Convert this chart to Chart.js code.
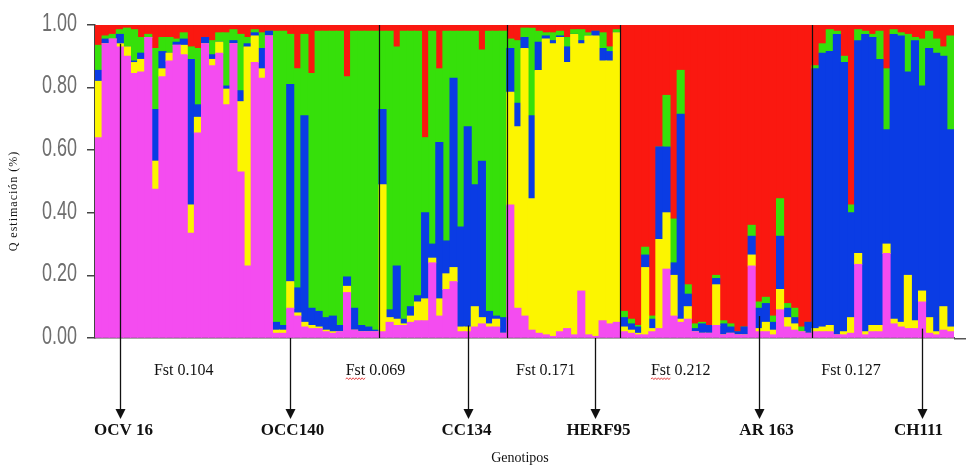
<!DOCTYPE html>
<html>
<head>
<meta charset="utf-8">
<script src="https://cdn.jsdelivr.net/npm/chart.js@4.4.1/dist/chart.umd.min.js"></script>
<style>
  html, body { margin: 0; padding: 0; background: #fff; }
  #wrap { width: 975px; height: 466px; }
</style>
</head>
<body>
<div id="wrap"><canvas id="structureChart" width="975" height="466"></canvas></div>
<script>
// populations (individuals per cluster, left to right)
const groupSizes = [25, 15, 18, 16, 27, 20];

// pairwise Fst between neighbouring reference genotypes
const fstValues = [0.104, 0.069, 0.171, 0.212, 0.127];

// reference genotypes marked with arrows (bar index)
const markerLabels = ['OCV 16', 'OCC140', 'CC134', 'HERF95', 'AR 163', 'CH111'];
const markerIndex = [3, 27, 52, 70, 93, 116];

const yTicks = [0, 0.2, 0.4, 0.6, 0.8, 1.0];

// Q membership per individual, stacked bottom -> top: pink, yellow, blue, green, red
const pink = [
  0.64, 0.94, 0.955, 0.93, 0.90, 0.845, 0.85, 0.96, 0.475, 0.835, 0.885, 0.935, 0.905, 0.335, 0.655, 0.94, 0.87, 0.91, 0.745, 0.94, 0.53, 0.23, 0.88, 0.83, 0.965,
  0.015, 0.015, 0.095, 0.07, 0.035, 0.03, 0.03, 0.02, 0.015, 0.02, 0.145, 0.025, 0.02, 0.02, 0.02,
  0.02, 0.05, 0.04, 0.04, 0.05, 0.055, 0.055, 0.24, 0.07, 0.155, 0.18, 0.02, 0.02, 0.035, 0.045, 0.035, 0.035, 0.015,
  0.425, 0.095, 0.07, 0.025, 0.015, 0.01, 0.005, 0.02, 0.03, 0.01, 0.15, 0.01, 0.005, 0.055, 0.045, 0.05,
  0.02, 0.015, 0.01, 0.01, 0.02, 0.03, 0.22, 0.07, 0.05, 0.06, 0.02, 0.015, 0.015, 0.04, 0.01, 0.015, 0.01, 0.01, 0.23, 0.02, 0.02, 0.01, 0.09, 0.035, 0.025, 0.02, 0.015,
  0.02, 0.02, 0.02, 0.01, 0.01, 0.015, 0.235, 0.01, 0.02, 0.02, 0.27, 0.045, 0.035, 0.03, 0.03, 0.115, 0.015, 0.01, 0.025, 0.02
];
const yellow = [
  0.18, 0, 0, 0.01, 0.03, 0.035, 0.04, 0, 0.09, 0.025, 0.025, 0, 0.03, 0.09, 0.05, 0, 0.02, 0.035, 0.05, 0, 0.225, 0.70, 0.085, 0.03, 0,
  0.01, 0.01, 0.085, 0.01, 0.015, 0.01, 0.005, 0.005, 0.005, 0, 0.02, 0, 0, 0, 0,
  0.47, 0.015, 0.02, 0.005, 0.02, 0.06, 0.07, 0.015, 0.055, 0.05, 0.045, 0.015, 0.015, 0.065, 0.02, 0.01, 0.025, 0,
  0.36, 0.58, 0.855, 0.42, 0.84, 0.945, 0.935, 0.94, 0.85, 0.96, 0.79, 0.955, 0.96, 0.83, 0.84, 0.925,
  0.015, 0.01, 0.005, 0.215, 0.01, 0.285, 0.18, 0.13, 0.01, 0.04, 0, 0, 0, 0.13, 0, 0, 0, 0, 0.035, 0.01, 0.03, 0.015, 0.065, 0.03, 0.02, 0, 0,
  0.01, 0.015, 0.02, 0, 0.01, 0.05, 0.035, 0.01, 0.02, 0.02, 0.03, 0.015, 0.015, 0.17, 0.025, 0.035, 0.05, 0.01, 0.075, 0.015
];
const blue = [
  0.035, 0.015, 0, 0.03, 0, 0.005, 0.02, 0, 0.165, 0.055, 0, 0.01, 0.02, 0.465, 0.04, 0.02, 0.015, 0, 0.01, 0.01, 0.035, 0.01, 0.01, 0.065, 0.015,
  0.025, 0.015, 0.63, 0.08, 0.66, 0.055, 0.05, 0.04, 0.05, 0.02, 0.03, 0.07, 0.02, 0.015, 0.005,
  0.24, 0.025, 0.17, 0.015, 0.03, 0.02, 0.275, 0.045, 0.50, 0.105, 0.605, 0.32, 0.64, 0.39, 0.50, 0.04, 0.01, 0.05,
  0.14, 0.075, 0.035, 0.265, 0.09, 0.01, 0.01, 0.005, 0.05, 0, 0.01, 0, 0.015, 0.04, 0.03, 0,
  0.03, 0.02, 0.02, 0.04, 0.03, 0.295, 0.21, 0.04, 0.655, 0.04, 0.01, 0.03, 0.025, 0.02, 0.035, 0.02, 0.01, 0.025, 0.06, 0.065, 0.06, 0.025, 0.17, 0.03, 0.02, 0, 0.035,
  0.83, 0.875, 0.875, 0.96, 0.86, 0.335, 0.68, 0.95, 0.92, 0.85, 0.365, 0.91, 0.915, 0.65, 0.895, 0.655, 0.86, 0.89, 0.80, 0.63
];
const green = [
  0.08, 0.01, 0.015, 0.015, 0.06, 0.10, 0.05, 0.01, 0.195, 0.045, 0.05, 0.01, 0.02, 0.04, 0.18, 0, 0.045, 0.03, 0.17, 0.035, 0.18, 0.02, 0.01, 0.05, 0,
  0.93, 0.94, 0.16, 0.70, 0.26, 0.75, 0.895, 0.915, 0.91, 0.94, 0.64, 0.885, 0.94, 0.945, 0.955,
  0.25, 0.89, 0.70, 0.92, 0.88, 0.845, 0.24, 0.68, 0.235, 0.67, 0.15, 0.625, 0.305, 0.49, 0.355, 0.895, 0.91, 0.915,
  0.03, 0.20, 0.03, 0.28, 0.035, 0.01, 0.025, 0.015, 0.03, 0.015, 0.035, 0.01, 0, 0.05, 0.015, 0.01,
  0.02, 0.015, 0.005, 0.025, 0.01, 0, 0.165, 0.14, 0.14, 0.03, 0.015, 0.005, 0, 0.01, 0.01, 0.01, 0, 0, 0.035, 0.02, 0.02, 0.02, 0.12, 0.015, 0.03, 0.015, 0,
  0.01, 0.03, 0.07, 0.01, 0.02, 0.025, 0.035, 0.01, 0.01, 0.09, 0.195, 0.015, 0.01, 0.12, 0.01, 0.15, 0.055, 0.045, 0.03, 0.30
];
const red = [
  0.065, 0.035, 0.03, 0.015, 0.01, 0.015, 0.04, 0.03, 0.075, 0.04, 0.04, 0.045, 0.025, 0.07, 0.075, 0.04, 0.05, 0.025, 0.025, 0.015, 0.03, 0.04, 0.015, 0.025, 0.02,
  0.02, 0.02, 0.03, 0.14, 0.03, 0.155, 0.02, 0.02, 0.02, 0.02, 0.165, 0.02, 0.02, 0.02, 0.02,
  0.02, 0.02, 0.07, 0.02, 0.02, 0.02, 0.36, 0.02, 0.14, 0.02, 0.02, 0.02, 0.02, 0.02, 0.08, 0.02, 0.02, 0.02,
  0.045, 0.05, 0.01, 0.01, 0.02, 0.025, 0.025, 0.02, 0.04, 0.015, 0.015, 0.025, 0.02, 0.025, 0.07, 0.015,
  0.915, 0.94, 0.96, 0.71, 0.93, 0.39, 0.225, 0.62, 0.145, 0.83, 0.955, 0.95, 0.96, 0.80, 0.945, 0.955, 0.98, 0.965, 0.64, 0.885, 0.87, 0.93, 0.555, 0.89, 0.905, 0.965, 0.95,
  0.13, 0.06, 0.015, 0.02, 0.10, 0.575, 0.015, 0.02, 0.03, 0.02, 0.14, 0.015, 0.025, 0.03, 0.04, 0.045, 0.02, 0.045, 0.07, 0.035
];

const individuals = pink.map((_, i) => 'Ind ' + (i + 1));

// extra drawing: group dividers, arrows, labels
const annotationPlugin = {
    id: 'annotations',
    afterDraw(chart, args, opts) {
        const ctx = chart.ctx;
        const xs = chart.scales.x;
        const ys = chart.scales.y;
        const area = chart.chartArea;
        ctx.save();

        // y tick labels, condensed like the original
        ctx.fillStyle = '#6e6e6e';
        ctx.font = '25px "Liberation Sans", Arial, sans-serif';
        ctx.textAlign = 'right';
        ctx.textBaseline = 'middle';
        ys.ticks.forEach(t => {
            const py = ys.getPixelForValue(t.value);
            ctx.save();
            ctx.translate(opts.tickRight, py - 1);
            ctx.scale(0.72, 1);
            ctx.fillText(Number(t.value).toFixed(2), 0, 0);
            ctx.restore();
        });

        // black divider lines between populations
        let cum = 0;
        ctx.strokeStyle = '#111';
        ctx.lineWidth = 1.2;
        groupSizes.forEach((n, i) => {
            cum += n;
            if (i === 0 || cum >= individuals.length) return;
            const px = Math.round((xs.getPixelForValue(cum - 1) + xs.getPixelForValue(cum)) / 2) + 0.5;
            ctx.beginPath();
            ctx.moveTo(px, area.top);
            ctx.lineTo(px, area.bottom);
            ctx.stroke();
        });

        // x baseline runs a bit past the last bar
        ctx.strokeStyle = '#555';
        ctx.lineWidth = 1.5;
        ctx.beginPath();
        ctx.moveTo(area.right, area.bottom + 0.75);
        ctx.lineTo(opts.baselineEnd, area.bottom + 0.75);
        ctx.stroke();

        // Fst labels
        ctx.fillStyle = '#111';
        ctx.font = '16px "Liberation Serif", serif';
        ctx.textAlign = 'center';
        ctx.textBaseline = 'middle';
        fstValues.forEach((v, i) => {
            const cx = xs.getPixelForValue(opts.fstAnchor[i]);
            const txt = 'Fst ' + v.toFixed(3);
            ctx.fillText(txt, cx, opts.fstY);
            if (opts.squiggle[i]) {
                const w = ctx.measureText(txt).width;
                const wf = ctx.measureText('Fst').width;
                const sx = cx - w / 2;
                const sy = opts.fstY + 8;
                ctx.save();
                ctx.strokeStyle = '#e02020';
                ctx.lineWidth = 0.8;
                ctx.beginPath();
                ctx.moveTo(sx, sy);
                let up = true;
                for (let k = sx + 1.5; k <= sx + wf; k += 1.5) {
                    ctx.lineTo(k, sy + (up ? -1.2 : 0.6));
                    up = !up;
                }
                ctx.stroke();
                ctx.restore();
            }
        });

        // arrows and genotype labels
        ctx.strokeStyle = '#111';
        ctx.fillStyle = '#111';
        markerIndex.forEach((idx, i) => {
            const px = Math.round(xs.getPixelForValue(idx)) + 0.5;
            const top = ys.getPixelForValue(opts.arrowTop[i]);
            ctx.lineWidth = 1.3;
            ctx.beginPath();
            ctx.moveTo(px, top);
            ctx.lineTo(px, opts.arrowTip - 8);
            ctx.stroke();
            ctx.beginPath();
            ctx.moveTo(px - 5, opts.arrowTip - 10);
            ctx.lineTo(px + 5, opts.arrowTip - 10);
            ctx.lineTo(px, opts.arrowTip);
            ctx.closePath();
            ctx.fill();

            ctx.font = 'bold 17px "Liberation Serif", serif';
            ctx.fillText(markerLabels[i], px + opts.labelShift[i], opts.labelY);
        });

        // axis titles
        ctx.font = '14px "Liberation Serif", serif';
        ctx.fillText('Genotipos', opts.xTitle[0], opts.xTitle[1]);

        ctx.save();
        ctx.translate(opts.yTitle[0], opts.yTitle[1]);
        ctx.rotate(-Math.PI / 2);
        ctx.font = '12px "Liberation Serif", serif';
        ctx.letterSpacing = '1px';
        ctx.fillText('Q estimación (%)', 0, 0);
        ctx.restore();

        ctx.restore();
    }
};

const seriesDefs = [
    { label: 'K1', data: pink, color: '#f44cf0' },
    { label: 'K2', data: yellow, color: '#fcf500' },
    { label: 'K3', data: blue, color: '#0a3ce4' },
    { label: 'K4', data: green, color: '#36e00a' },
    { label: 'K5', data: red, color: '#fa1810' }
];

const chart = new Chart(document.getElementById('structureChart'), {
    type: 'bar',
    data: {
        labels: individuals,
        datasets: seriesDefs.map(s => ({
            label: s.label,
            data: s.data,
            backgroundColor: s.color,
            borderWidth: 0,
            barPercentage: 1,
            categoryPercentage: 1,
            inflateAmount: 0.5
        }))
    },
    plugins: [annotationPlugin],
    options: {
        responsive: false,
        animation: false,
        devicePixelRatio: 1,
        layout: { padding: { top: 25, right: 21, left: 0, bottom: 0 } },
        plugins: {
            legend: { display: false },
            tooltip: { enabled: false },
            annotations: {
                tickRight: 77,
                baselineEnd: 966,
                fstAnchor: [12, 39, 63, 82, 106],
                fstY: 371,
                squiggle: [false, true, false, true, false],
                arrowTop: [0.94, 0, 0.04, 0, 0.07, 0.03],
                arrowTip: 419,
                labelShift: [3, 2, -2, 3, 7, -4],
                labelY: 431,
                xTitle: [520, 458],
                yTitle: [14, 201]
            }
        },
        scales: {
            x: {
                stacked: true,
                ticks: { display: false },
                grid: { display: false },
                border: { display: true, color: '#555', width: 1.5 },
                afterFit: s => { s.height = 128; }
            },
            y: {
                stacked: true,
                min: 0,
                max: 1,
                afterBuildTicks: s => { s.ticks = yTicks.map(v => ({ value: v })); },
                ticks: {
                    callback: v => Number(v).toFixed(2),
                    color: 'rgba(0,0,0,0)',
                    padding: 9,
                    font: { family: '"Liberation Sans", sans-serif', size: 18 }
                },
                grid: { drawOnChartArea: false, drawTicks: true, tickLength: 8, color: '#444', lineWidth: 1.5 },
                border: { display: true, color: '#444', width: 1.5 },
                afterFit: s => { s.width = 95; }
            }
        }
    }
});
</script>
</body>
</html>
